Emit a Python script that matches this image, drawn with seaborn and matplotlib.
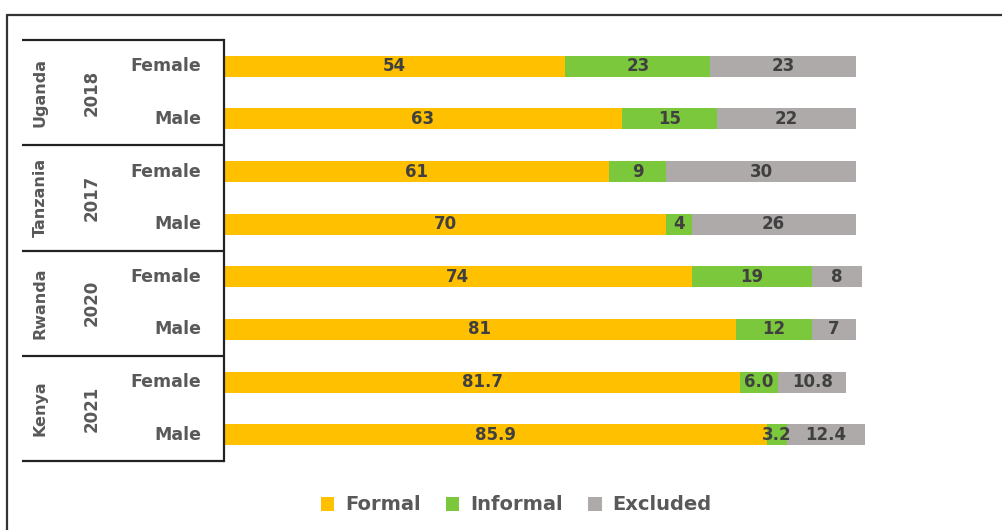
import matplotlib
matplotlib.use("Agg")
import matplotlib.pyplot as plt
import seaborn as sns
import pandas as pd
from matplotlib.patches import Patch
from matplotlib.lines import Line2D

sns.set_theme(style="white")
plt.rcParams['font.family'] = ['DejaVu Sans']

countries = ["Uganda", "Tanzania", "Rwanda", "Kenya"]
years = ["2018", "2017", "2020", "2021"]
sexes = ["Female", "Male"]
formal = [54, 63, 61, 70, 74, 81, 81.7, 85.9]
informal = [23, 15, 9, 4, 19, 12, 6.0, 3.2]
excluded = [23, 22, 30, 26, 8, 7, 10.8, 12.4]
decimals = [0, 0, 0, 0, 0, 0, 1, 1]
series_names = ["Formal", "Informal", "Excluded"]
colors = ["#FFC000", "#7CC83C", "#AEAAAA"]

rows = [f"{c} {y} {s}" for c, y in zip(countries, years) for s in sexes]
df = pd.DataFrame({"row": rows, "Formal": formal, "Informal": informal, "Excluded": excluded})
df["c1"] = df["Formal"]
df["c2"] = df["Formal"] + df["Informal"]
df["c3"] = df["c2"] + df["Excluded"]

W, H = 1003, 530
fig = plt.figure(figsize=(W / 100, H / 100), dpi=100)
ax = fig.add_axes([224 / W, 1 - 461 / H, 695 / W, 421 / H])

for col, colr in zip(["c3", "c2", "c1"], colors[::-1]):
    sns.barplot(data=df, y="row", x=col, order=rows, orient="h", color=colr,
                saturation=1, width=0.4, ax=ax, linewidth=0)

ax.set_xlim(0, 110)
ax.set_ylim(len(rows) - 0.5, -0.5)
ax.set_xlabel("")
ax.set_ylabel("")
ax.set_xticks([])
ax.set_yticks([])
for s in ["top", "right", "bottom"]:
    ax.spines[s].set_visible(False)
ax.spines["left"].set_color("#222222")
ax.spines["left"].set_linewidth(1.6)

txtc = "#404040"
for i in range(len(rows)):
    lefts = [0, df["c1"][i], df["c2"][i]]
    vals = [formal[i], informal[i], excluded[i]]
    for l, v in zip(lefts, vals):
        ax.text(l + v / 2, i, f"{v:.{decimals[i]}f}", ha="center", va="center",
                fontsize=12, fontweight="bold", color=txtc)

# hierarchical table labels
x0 = (22 - 224) / 695
labc = "#595959"
for g in range(len(countries) + 1):
    yv = g * 2 - 0.5
    ax.plot([x0, 0], [yv, yv], transform=ax.get_yaxis_transform(), color="#222222",
            lw=1.6, clip_on=False, solid_capstyle="butt")
for g, (c, y) in enumerate(zip(countries, years)):
    yc = g * 2 + 0.5
    ax.text((40 - 224) / 695, yc, c, rotation=90, ha="center", va="center",
            transform=ax.get_yaxis_transform(), fontsize=11.5, fontweight="semibold", color=labc)
    ax.text((92 - 224) / 695, yc, y, rotation=90, ha="center", va="center",
            transform=ax.get_yaxis_transform(), fontsize=12, fontweight="semibold", color=labc)
for i, r in enumerate(rows):
    ax.text((201 - 224) / 695, i, sexes[i % 2], ha="right", va="center",
            transform=ax.get_yaxis_transform(), fontsize=12.5, fontweight="bold", color=labc)

# outer frame
fig.add_artist(Line2D([7 / W, 1.0], [1 - 15 / H, 1 - 15 / H], color="#333333", lw=1.6))
fig.add_artist(Line2D([7 / W, 7 / W], [0, 1 - 15 / H], color="#333333", lw=1.6))

handles = [Patch(facecolor=c, edgecolor="none") for c in colors]
leg = fig.legend(handles, series_names, loc="center", bbox_to_anchor=(516 / W, 1 - 505 / H),
                 ncol=3, frameon=False, handlelength=0.7, handleheight=0.7,
                 handletextpad=0.55, columnspacing=1.3,
                 prop={"weight": "bold", "size": 14})
for t in leg.get_texts():
    t.set_color(labc)

fig.savefig("out.png", dpi=100)
